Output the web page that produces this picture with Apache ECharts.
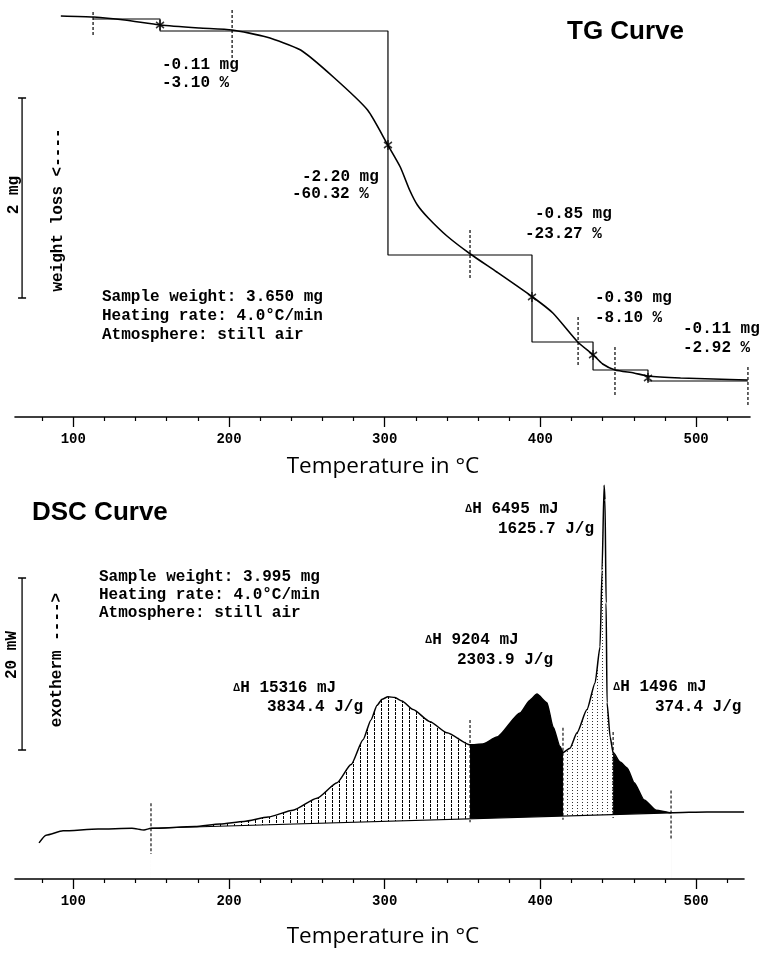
<!DOCTYPE html>
<html><head><meta charset="utf-8">
<script src="https://cdn.jsdelivr.net/npm/echarts@6/dist/echarts.min.js"></script>
<style>html,body{margin:0;padding:0;background:#fff}#c{width:761px;height:954px}</style>
</head><body><div id="c"></div>
<script>
// ---------- TG data ----------
const tgTemp = [92,113,133,156,181,202,224,246,267,289,302,310,316,321,328,340,355,372,395,408,424,434,440,448,460,469,490,511,533];
const tgMass = [3.69,3.68,3.65,3.60,3.57,3.55,3.48,3.35,3.08,2.75,2.40,2.18,1.95,1.80,1.67,1.49,1.31,1.13,0.88,0.72,0.43,0.30,0.21,0.15,0.12,0.09,0.07,0.06,0.05];
const tgStepTemp = [112.7,155.7,302.1,394.6,433.8,469.1,533.3];
const tgStepLevel = [3.66,3.54,1.30,0.43,0.15,0.04];
const tgInflTemp = [155.7,302.1,394.6,433.8,469.1];
const tgInflMass = [3.60,2.40,0.88,0.30,0.07];
const tgBoundTemp = [112.7,202.0,354.8,424.2,447.9,533.3];
const tgBoundTop = [3.73,3.80,1.55,0.68,0.38,0.18];
const tgBoundBottom = [3.50,3.27,1.05,0.18,-0.12,-0.22];
const tgStepMg = ['-0.11 mg','-2.20 mg','-0.85 mg','-0.30 mg','-0.11 mg'];
const tgStepPct = ['-3.10 %','-60.32 %','-23.27 %','-8.10 %','-2.92 %'];
const tgInfo = ['Sample weight: 3.650 mg','Heating rate: 4.0°C/min','Atmosphere: still air'];
const tgScaleMg = 2;

// ---------- DSC data ----------
const dscTemp = [78.0,82.5,93.4,115.9,137.7,145.4,149.9,178.2,194.2,209.6,225.1,241.1,256.5,269.4,278.4,286.1,291.2,295.1,298.3,302.1,306.6,311.1,318.2,329.1,340.0,354.8,363.0,372.1,386.9,393.3,397.8,404.2,408.1,412.6,414.5,419.0,423.5,429.9,435.1,438.3,439.6,440.9,441.5,442.2,442.8,444.8,446.7,451.2,455.7,460.2,466.6,474.3,483.9,507.0,530.8];
const dscFlow = [4.2,5.1,5.6,5.8,5.9,5.7,5.9,6.1,6.4,6.7,7.2,8.0,9.4,11.2,13.3,16.2,18.5,20.2,20.9,21.2,21.1,20.7,19.7,18.3,17.0,15.6,15.7,16.5,19.3,20.8,21.5,20.5,17.7,15.4,14.7,15.2,17.0,19.7,22.8,27.0,35.9,45.8,44.1,32.1,20.5,16.5,14.7,13.6,12.9,11.2,9.2,8.0,7.7,7.8,7.8];
const dscRegionStart = [149.9,354.8,414.5,446.7];
const dscRegionEnd   = [354.8,414.5,446.7,483.9];
const dscRegionFill  = ['hatch','black','dots','black'];
const dscMarkTemp = [149.9,354.8,414.5,446.7,483.9];
const dscMarkTop = [8.8,18.5,17.6,17.1,10.3];
const dscMarkBottom = [2.9,6.6,6.9,7.1,4.5];
const dscLabelH = ['15316 mJ','9204 mJ','6495 mJ','1496 mJ'];
const dscLabelJ = ['3834.4 J/g','2303.9 J/g','1625.7 J/g','374.4 J/g'];
const dscInfo = ['Sample weight: 3.995 mg','Heating rate: 4.0°C/min','Atmosphere: still air'];
const dscScaleMw = 20;

// ---------- axis ticks ----------
const majorTicks = [100,200,300,400,500];
const minorTicks = [80,120,140,160,180,220,240,260,280,320,340,360,380,420,440,460,480,520];

// ---------- layout ----------
const MONO = '"Liberation Mono", "DejaVu Sans Mono", monospace';
const SANS = '"Liberation Sans", Arial, sans-serif';
const txtFont = 'bold 16px ' + MONO;
const titleFont = '22.5px "Open Sans", sans-serif';

function hatchPattern(){
  const c=document.createElement('canvas'); c.width=7; c.height=4;
  const g=c.getContext('2d'); g.fillStyle='#000'; g.fillRect(3,0,1,3); return c;
}
function dotPattern(){
  const c=document.createElement('canvas'); c.width=5; c.height=3;
  const g=c.getContext('2d'); g.fillStyle='#333'; g.fillRect(2,1,1,1); return c;
}
const fills = {
  hatch: {image: hatchPattern(), repeat: 'repeat'},
  dots: {image: dotPattern(), repeat: 'repeat'},
  black: '#000'
};

const series = [];
// TG curve
series.push({type:'line', xAxisIndex:0, yAxisIndex:0, data: tgTemp.map((t,i)=>[t,tgMass[i]]),
  smooth:0.2, symbol:'none', lineStyle:{color:'#000', width:1.6}, z:5});
// staircase
const stair=[];
for(let i=0;i<tgStepLevel.length;i++){
  stair.push([tgStepTemp[i], tgStepLevel[i]]);
  stair.push([tgStepTemp[i+1], tgStepLevel[i]]);
  if(i+1<tgStepLevel.length) stair.push([tgStepTemp[i+1], tgStepLevel[i+1]]);
}
series.push({type:'line', xAxisIndex:0, yAxisIndex:0, data: stair, symbol:'none', lineStyle:{color:'#000', width:1.2}, z:4});
// inflection markers
series.push({type:'scatter', xAxisIndex:0, yAxisIndex:0, data: tgInflTemp.map((t,i)=>[t,tgInflMass[i]]),
  symbol:'path://M5,0L5,10M0,2L10,8M0,8L10,2', symbolSize:[8,10],
  itemStyle:{color:'transparent', borderColor:'#000', borderWidth:1.6}, z:6});
// boundary dashed markers
tgBoundTemp.forEach((t,i)=>{
  series.push({type:'line', xAxisIndex:0, yAxisIndex:0, data:[[t,tgBoundTop[i]],[t,tgBoundBottom[i]]], symbol:'none',
    lineStyle:{color:'#000', width:1.2, type:[3,2]}, z:4});
});
// TG scale bar (2 mg)
series.push({type:'line', xAxisIndex:0, yAxisIndex:0, data:[[67.1,0.87],[67.1,0.87+tgScaleMg]],
  symbol:'rect', symbolSize:[8,1.5], itemStyle:{color:'#000'}, lineStyle:{color:'#000', width:1.3}, z:4});

// DSC: integration baseline between the first and last marker
const iA = dscTemp.indexOf(dscMarkTemp[0]);
const iB = dscTemp.indexOf(dscMarkTemp[4]);
const bT0 = dscTemp[iA], bV0 = dscFlow[iA], bT1 = dscTemp[iB], bV1 = dscFlow[iB];
// region fills: curve segment filled down, then the part below the baseline is covered in white
dscRegionStart.forEach((a,r)=>{
  const b = dscRegionEnd[r];
  const pts = dscTemp.map((t,i)=>[t,dscFlow[i]]).filter(p=>p[0]>=a-1e-6 && p[0]<=b+1e-6);
  series.push({type:'line', xAxisIndex:2, yAxisIndex:1, symbol:'none', smooth:0.2, smoothMonotone:'x',
    data: pts, lineStyle:{opacity:0}, areaStyle:{color: fills[dscRegionFill[r]], opacity:1, origin:'start'}, z:2});
});
series.push({type:'custom', xAxisIndex:2, yAxisIndex:1, z:3, silent:true,
  data:[[bT0,bV0,bT1,bV1]],
  renderItem:function(params, api){
    const p0 = api.coord([api.value(0), api.value(1)]);
    const p1 = api.coord([api.value(2), api.value(3)]);
    const q1 = api.coord([api.value(2), 0]);
    const q0 = api.coord([api.value(0), 0]);
    return {type:'polygon', shape:{points:[[p0[0]-0.5,p0[1]],[p1[0]+0.5,p1[1]],[q1[0]+0.5,q1[1]+2],[q0[0]-0.5,q0[1]+2]]},
      style:{fill:'#fff'}};
  }});
// DSC curve
series.push({type:'line', xAxisIndex:2, yAxisIndex:1, data: dscTemp.map((t,i)=>[t,dscFlow[i]]),
  smooth:0.2, smoothMonotone:'x', symbol:'none', lineStyle:{color:'#000', width:1.5}, z:5});
// integration baseline
series.push({type:'line', xAxisIndex:2, yAxisIndex:1, data:[[bT0,bV0],[bT1,bV1]], symbol:'none',
  lineStyle:{color:'#000', width:1.2}, z:4});
// DSC dashed markers
dscMarkTemp.forEach((t,i)=>{
  series.push({type:'line', xAxisIndex:2, yAxisIndex:1, data:[[t,dscMarkTop[i]],[t,dscMarkBottom[i]]], symbol:'none',
    lineStyle:{color:'#000', width:1.1, type:[3,2]}, z:4});
});
// DSC scale bar (20 mW)
series.push({type:'line', xAxisIndex:2, yAxisIndex:1, data:[[67.1,15.0],[67.1,15.0+dscScaleMw]],
  symbol:'rect', symbolSize:[8,1.5], itemStyle:{color:'#000'}, lineStyle:{color:'#000', width:1.3}, z:4});

function majorAxis(grid, max){
  return {type:'value', gridIndex:grid, position:'bottom', min:62.56, max:max, z:10,
    axisLine:{show:true, onZero:false, lineStyle:{color:'#000', width:1.6}},
    axisTick:{show:true, customValues:majorTicks, length:10, lineStyle:{color:'#000', width:1.3}},
    axisLabel:{show:true, customValues:majorTicks, margin:15, color:'#000', fontFamily:MONO, fontSize:14, fontWeight:'bold'},
    splitLine:{show:false}, minorTick:{show:false}};
}
function minorAxis(grid, max){
  return {type:'value', gridIndex:grid, position:'bottom', offset:0, min:62.56, max:max, z:10,
    axisLine:{show:false, onZero:false},
    axisTick:{show:true, customValues:minorTicks, length:4, lineStyle:{color:'#000', width:1.2}},
    axisLabel:{show:false}, splitLine:{show:false}};
}

function txt(x,y,text,opts){
  opts = opts||{};
  return {type:'text', x:x, y:y, rotation:opts.rot||0, z:10,
    style:{text:text, font:opts.font||txtFont, fill:'#000', align:opts.align||'left', verticalAlign:'middle', rich:opts.rich}};
}
const graphics = [];
graphics.push(txt(567,32,'TG Curve',{font:'bold 26px '+SANS}));
const tgMgPos = [[162,65],[302,177],[535,214],[595,298],[683,329]];
const tgPctPos = [[162,83],[292,194],[525,234],[595,318],[683,348]];
tgStepMg.forEach((s,i)=>graphics.push(txt(tgMgPos[i][0],tgMgPos[i][1],s)));
tgStepPct.forEach((s,i)=>graphics.push(txt(tgPctPos[i][0],tgPctPos[i][1],s)));
tgInfo.forEach((s,i)=>graphics.push(txt(102,297+i*19,s)));
graphics.push(txt(14,195,'2 mg',{rot:Math.PI/2, align:'center'}));
graphics.push(txt(58,210,'weight loss <----',{rot:Math.PI/2, align:'center'}));
graphics.push(txt(383,467,'Temperature in °C',{font:titleFont, align:'center'}));

graphics.push(txt(32,513,'DSC Curve',{font:'bold 26px '+SANS}));
dscInfo.forEach((s,i)=>graphics.push(txt(99,577+i*18,s)));
graphics.push(txt(12,655,'20 mW',{rot:Math.PI/2, align:'center'}));
graphics.push(txt(57,660,'exotherm ---->',{rot:Math.PI/2, align:'center'}));
const dscHPos = [[233,688],[425,640],[465,509],[613,687]];
const dscJPos = [[267,707],[457,660],[498,529],[655,707]];
const richD = {d:{font:'bold 10px '+SANS, fill:'#000'}, t:{font:txtFont, fill:'#000'}};
dscLabelH.forEach((s,i)=>graphics.push(txt(dscHPos[i][0],dscHPos[i][1],'{d|Δ}{t|H '+s+'}',{rich:richD})));
dscLabelJ.forEach((s,i)=>graphics.push(txt(dscJPos[i][0],dscJPos[i][1],s)));
graphics.push(txt(383,937,'Temperature in °C',{font:titleFont, align:'center'}));

const chart = echarts.init(document.getElementById('c'));
chart.setOption({
  backgroundColor:'#fff',
  animation:false,
  grid:[{left:15, right:11, top:10, bottom:537}, {left:15, right:17, top:470, bottom:75}],
  xAxis:[majorAxis(0,534.62), minorAxis(0,534.62), majorAxis(1,530.76), minorAxis(1,530.76)],
  yAxis:[{type:'value', gridIndex:0, min:-0.32, max:3.75, show:false},
         {type:'value', gridIndex:1, min:0, max:47.56, show:false}],
  series: series,
  graphic: graphics
});
</script></body></html>
